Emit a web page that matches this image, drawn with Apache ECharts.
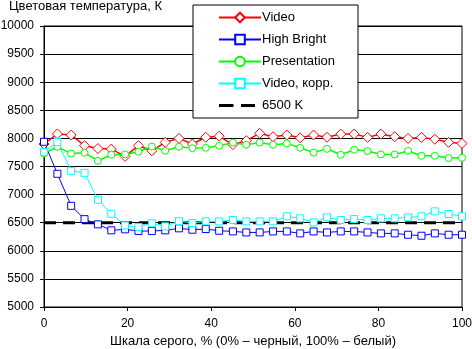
<!DOCTYPE html>
<html>
<head>
<meta charset="utf-8">
<script src="https://cdn.jsdelivr.net/npm/echarts@6/dist/echarts.min.js"></script>
<style>
  html, body { margin: 0; padding: 0; background: #fff; }
  #chart { width: 472px; height: 349px; }
</style>
</head>
<body>
<div id="chart"></div>
<script>
// Gray level, % (measurement steps)
const grayLevels = [0, 3.2, 6.5, 9.7, 12.9, 16.1, 19.4, 22.6, 25.8, 29.0, 32.3, 35.5, 38.7, 41.9, 45.2, 48.4,
  51.6, 54.8, 58.1, 61.3, 64.5, 67.7, 71.0, 74.2, 77.4, 80.6, 83.9, 87.1, 90.3, 93.5, 96.8, 100];

// Colour temperature, K
const video = [7900, 8080, 8060, 7870, 7820, 7810, 7680, 7870, 7780, 7930, 8000, 7900, 8020, 8040, 7890, 7960,
  8090, 8030, 8060, 8010, 8060, 8020, 8077, 8077, 8018, 8077, 8030, 8000, 8018, 7985, 7930, 7910];
const highBright = [7940, 7370, 6800, 6563, 6471, 6364, 6382, 6352, 6352, 6364, 6400, 6375, 6387, 6357, 6345, 6327,
  6327, 6345, 6345, 6310, 6345, 6327, 6345, 6345, 6327, 6310, 6310, 6286, 6268, 6310, 6286, 6286];
const presentation = [7730, 7850, 7730, 7745, 7600, 7710, 7715, 7762, 7855, 7780, 7851, 7827, 7833, 7869, 7925, 7887,
  7925, 7887, 7911, 7833, 7747, 7815, 7708, 7798, 7774, 7714, 7714, 7777, 7690, 7690, 7650, 7655];
const videoCorr = [7760, 7935, 7423, 7387, 6908, 6658, 6452, 6423, 6489, 6435, 6527, 6494, 6524, 6524, 6548, 6524,
  6524, 6524, 6613, 6577, 6506, 6595, 6548, 6565, 6548, 6577, 6577, 6595, 6613, 6702, 6655, 6613];
const reference = [[0, 6500], [100, 6500]];

const seriesNames = ['Video', 'High Bright', 'Presentation', 'Video, корр.', '6500 K'];
const yTicks = [5000, 10000, 500];
const xTicks = [0, 100, 20];

const FONT = 'Arial, "Liberation Sans", sans-serif';
const pairs = (ys) => grayLevels.map((x, i) => [x, ys[i]]);

// Legend sample for the dashed reference line: two thick dashes inside a 42x12 box
const dashIcon = 'path://M0,0L0,0ZM42,12L42,12ZM0,4.5H14.5V7.5H0ZM22,4.5H36V7.5H22Z';

const chart = echarts.init(document.getElementById('chart'), null, { renderer: 'canvas' });

function markerSeries(name, ys, color, symbol, size, width) {
  return {
    name: name,
    type: 'line',
    data: pairs(ys),
    symbol: symbol,
    symbolSize: size,
    showAllSymbol: true,
    lineStyle: { color: color, width: width },
    itemStyle: { color: '#fff', borderColor: color, borderWidth: 1 },
    emphasis: { disabled: true },
    z: 3
  };
}

chart.setOption({
  animation: false,
  backgroundColor: '#fff',
  textStyle: { fontFamily: FONT },
  title: {
    text: 'Цветовая температура, К',
    left: 9,
    top: 0,
    padding: 0,
    textStyle: { fontFamily: FONT, fontSize: 13, fontWeight: 'normal', color: '#000' }
  },
  grid: {
    left: 44, right: 10, top: 26, bottom: 42,
    outerBoundsMode: 'none',
    containLabel: false,
    show: true, borderColor: '#000', borderWidth: 1, backgroundColor: 'transparent'
  },
  legend: {
    orient: 'vertical',
    left: 193,
    top: 5,
    padding: [6, 23, 6, 25],
    itemWidth: 42,
    itemHeight: 12,
    itemGap: 9,
    backgroundColor: '#fff',
    borderColor: '#000',
    borderWidth: 1,
    textStyle: { fontFamily: FONT, fontSize: 13, color: '#000', padding: [0, 0, 0, -4] },
    data: [
      seriesNames[0], seriesNames[1], seriesNames[2], seriesNames[3],
      { name: seriesNames[4], icon: dashIcon, itemStyle: { color: '#000', borderWidth: 0 } }
    ]
  },
  xAxis: {
    type: 'value',
    min: xTicks[0], max: xTicks[1], interval: xTicks[2],
    name: 'Шкала серого, % (0% – черный, 100% – белый)',
    nameLocation: 'middle',
    nameGap: 28,
    nameTextStyle: { fontFamily: FONT, fontSize: 13, color: '#000' },
    axisLine: { lineStyle: { color: '#000', width: 1 } },
    axisTick: { show: true, length: 4, lineStyle: { color: '#000' } },
    axisLabel: { fontFamily: FONT, fontSize: 12, color: '#000', margin: 11 },
    splitLine: { show: false }
  },
  yAxis: {
    type: 'value',
    min: yTicks[0], max: yTicks[1], interval: yTicks[2],
    axisLine: { show: true, lineStyle: { color: '#000', width: 1 } },
    axisTick: { show: true, length: 4, lineStyle: { color: '#000' } },
    axisLabel: { fontFamily: FONT, fontSize: 12, color: '#000', margin: 10, formatter: (v) => String(v) },
    splitLine: { show: true, lineStyle: { color: '#000', width: 1 } }
  },
  series: [
    markerSeries(seriesNames[0], video, '#ff0000', 'diamond', [10, 10], 1.5),
    markerSeries(seriesNames[1], highBright, '#0000ff', 'rect', 7, 1),
    markerSeries(seriesNames[2], presentation, '#00ff00', 'circle', 7, 1.5),
    markerSeries(seriesNames[3], videoCorr, '#00ffff', 'rect', 7, 1),
    {
      name: seriesNames[4],
      type: 'line',
      data: reference,
      symbol: 'none',
      lineStyle: { color: '#000', width: 3, type: [12, 7] },
      itemStyle: { color: '#000' },
      emphasis: { disabled: true },
      z: 2
    }
  ]
});
</script>
</body>
</html>
